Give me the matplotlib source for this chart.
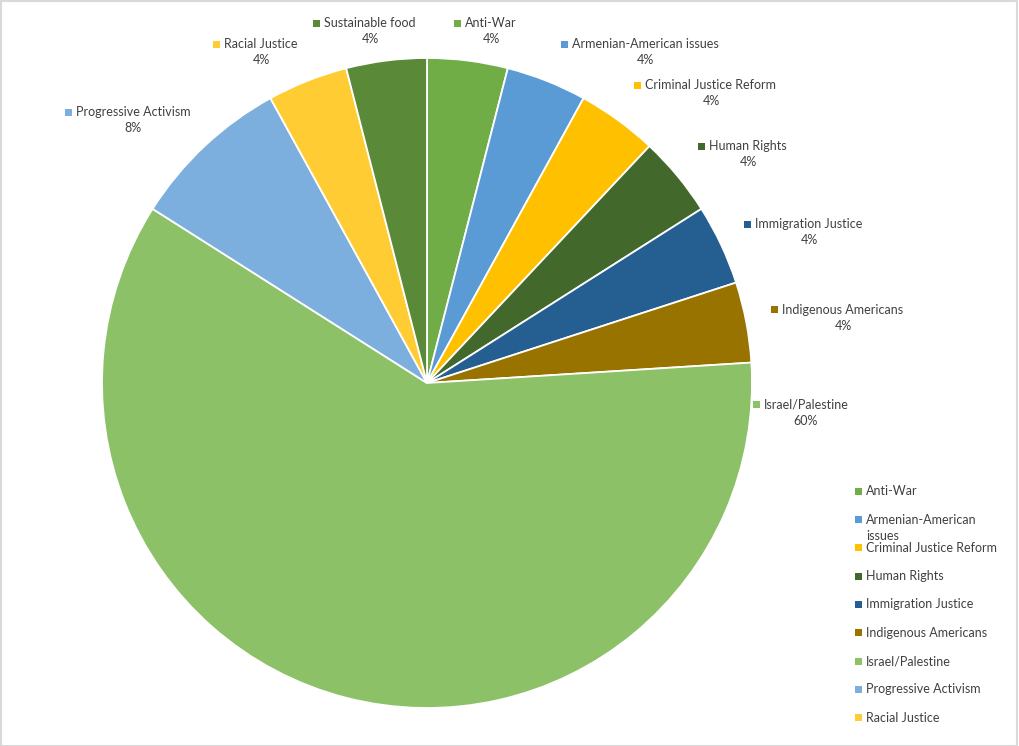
import matplotlib
matplotlib.use("Agg")
import matplotlib.pyplot as plt
from matplotlib.patches import Rectangle

W, H = 1020, 746

categories = ["Anti-War", "Armenian-American issues", "Criminal Justice Reform",
              "Human Rights", "Immigration Justice", "Indigenous Americans",
              "Israel/Palestine", "Progressive Activism", "Racial Justice",
              "Sustainable food"]
values = [4, 4, 4, 4, 4, 4, 60, 8, 4, 4]
colors = ["#70AD47", "#5B9BD5", "#FFC000", "#43682B", "#255E91", "#997300",
          "#8CC168", "#7CAFDD", "#FFCD33", "#5A8A38"]
legend_labels = ["Anti-War", "Armenian-American\nissues", "Criminal Justice Reform",
                 "Human Rights", "Immigration Justice", "Indigenous Americans",
                 "Israel/Palestine", "Progressive Activism", "Racial Justice"]

# where excel put the data labels (centre of the name text, top-down pixels)
label_pos = [(491, 23), (645, 44), (711, 85), (748, 146), (809, 224),
             (843, 310), (806, 405), (133, 112), (261, 44), (370, 23)]

txt = "#404040"
fs = 9
plt.rcParams["font.family"] = ["Lato", "DejaVu Sans"]

fig = plt.figure(figsize=(W / 100, H / 100), dpi=100)
ax = fig.add_axes([0, 0, 1, 1])

wedges, _ = ax.pie(values, colors=colors, startangle=90, counterclock=False,
                   center=(427, H - 383), radius=325,
                   wedgeprops=dict(edgecolor="white", linewidth=1.3))
ax.set_xlim(0, W)
ax.set_ylim(0, H)
ax.set_aspect("equal")
ax.axis("off")

fig.canvas.draw()
r = fig.canvas.get_renderer()
inv = ax.transData.inverted()

for cat, v, c, (x, y) in zip(categories, values, colors, label_pos):
    t = ax.text(x, H - y, cat, ha="center", va="center", fontsize=fs, color=txt)
    ax.text(x, H - y - 16, f"{v}%", ha="center", va="center", fontsize=fs, color=txt)
    bb = t.get_window_extent(renderer=r)
    x0 = inv.transform((bb.x0, bb.y0))[0]
    ax.add_patch(Rectangle((x0 - 11, H - y - 3.5), 7, 7, color=c, lw=0))

# legend, drawn by hand like excel's
for i, (lab, c) in enumerate(zip(legend_labels, colors)):
    y = 491 + i * 28.35
    ax.add_patch(Rectangle((855, H - y - 3.5), 7, 7, color=c, lw=0))
    if "\n" in lab:
        ax.text(866, H - y + 5, lab, ha="left", va="top", fontsize=fs,
                color=txt, linespacing=1.35)
    else:
        ax.text(866, H - y, lab, ha="left", va="center", fontsize=fs, color=txt)

fig.add_artist(Rectangle((0.5 / W, 0), 1 - 3 / W, 1 - 1 / H, transform=fig.transFigure,
                         fill=False, edgecolor="#D9D9D9", lw=1.5))

fig.savefig("out.png", dpi=100)
